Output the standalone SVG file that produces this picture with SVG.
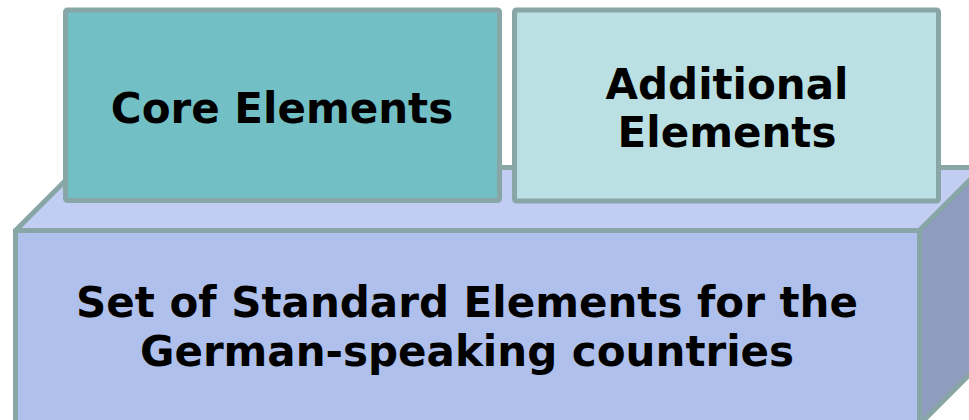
<svg xmlns="http://www.w3.org/2000/svg" width="969" height="420" viewBox="0 0 969 420">
<style>
.edge{stroke:#88A6A6;stroke-width:5;stroke-linejoin:round}
.lbl{font-family:"DejaVu Sans","Verdana",sans-serif;font-weight:bold;font-size:42px;fill:#000;text-anchor:middle}
</style>
<rect width="969" height="420" fill="#ffffff"/>
<g id="base">
<polygon class="edge" points="15.5,230.5 78.5,167.5 982.5,167.5 919.5,230.5" fill="#C1CDF2"/>
<polygon class="edge" points="919.5,230.5 982.5,167.5 982.5,361.5 919.5,424.5" fill="#8E9CC0"/>
<rect class="edge" x="15.5" y="230.5" width="904" height="194" fill="#AFC0EC"/>
<text class="lbl" x="467" y="317">Set of Standard Elements for the</text>
<text class="lbl" x="467" y="366">German-speaking countries</text>
</g>
<g id="core">
<rect class="edge" x="65.5" y="10" width="434" height="190.5" rx="2" fill="#72C0C6"/>
<text class="lbl" x="282" y="123">Core Elements</text>
</g>
<g id="additional">
<rect class="edge" x="514.5" y="10" width="424" height="191" rx="2" fill="#BAE0E3"/>
<text class="lbl" x="727" y="99">Additional</text>
<text class="lbl" x="727" y="147">Elements</text>
</g>
<g id="connectors"></g>
</svg>
